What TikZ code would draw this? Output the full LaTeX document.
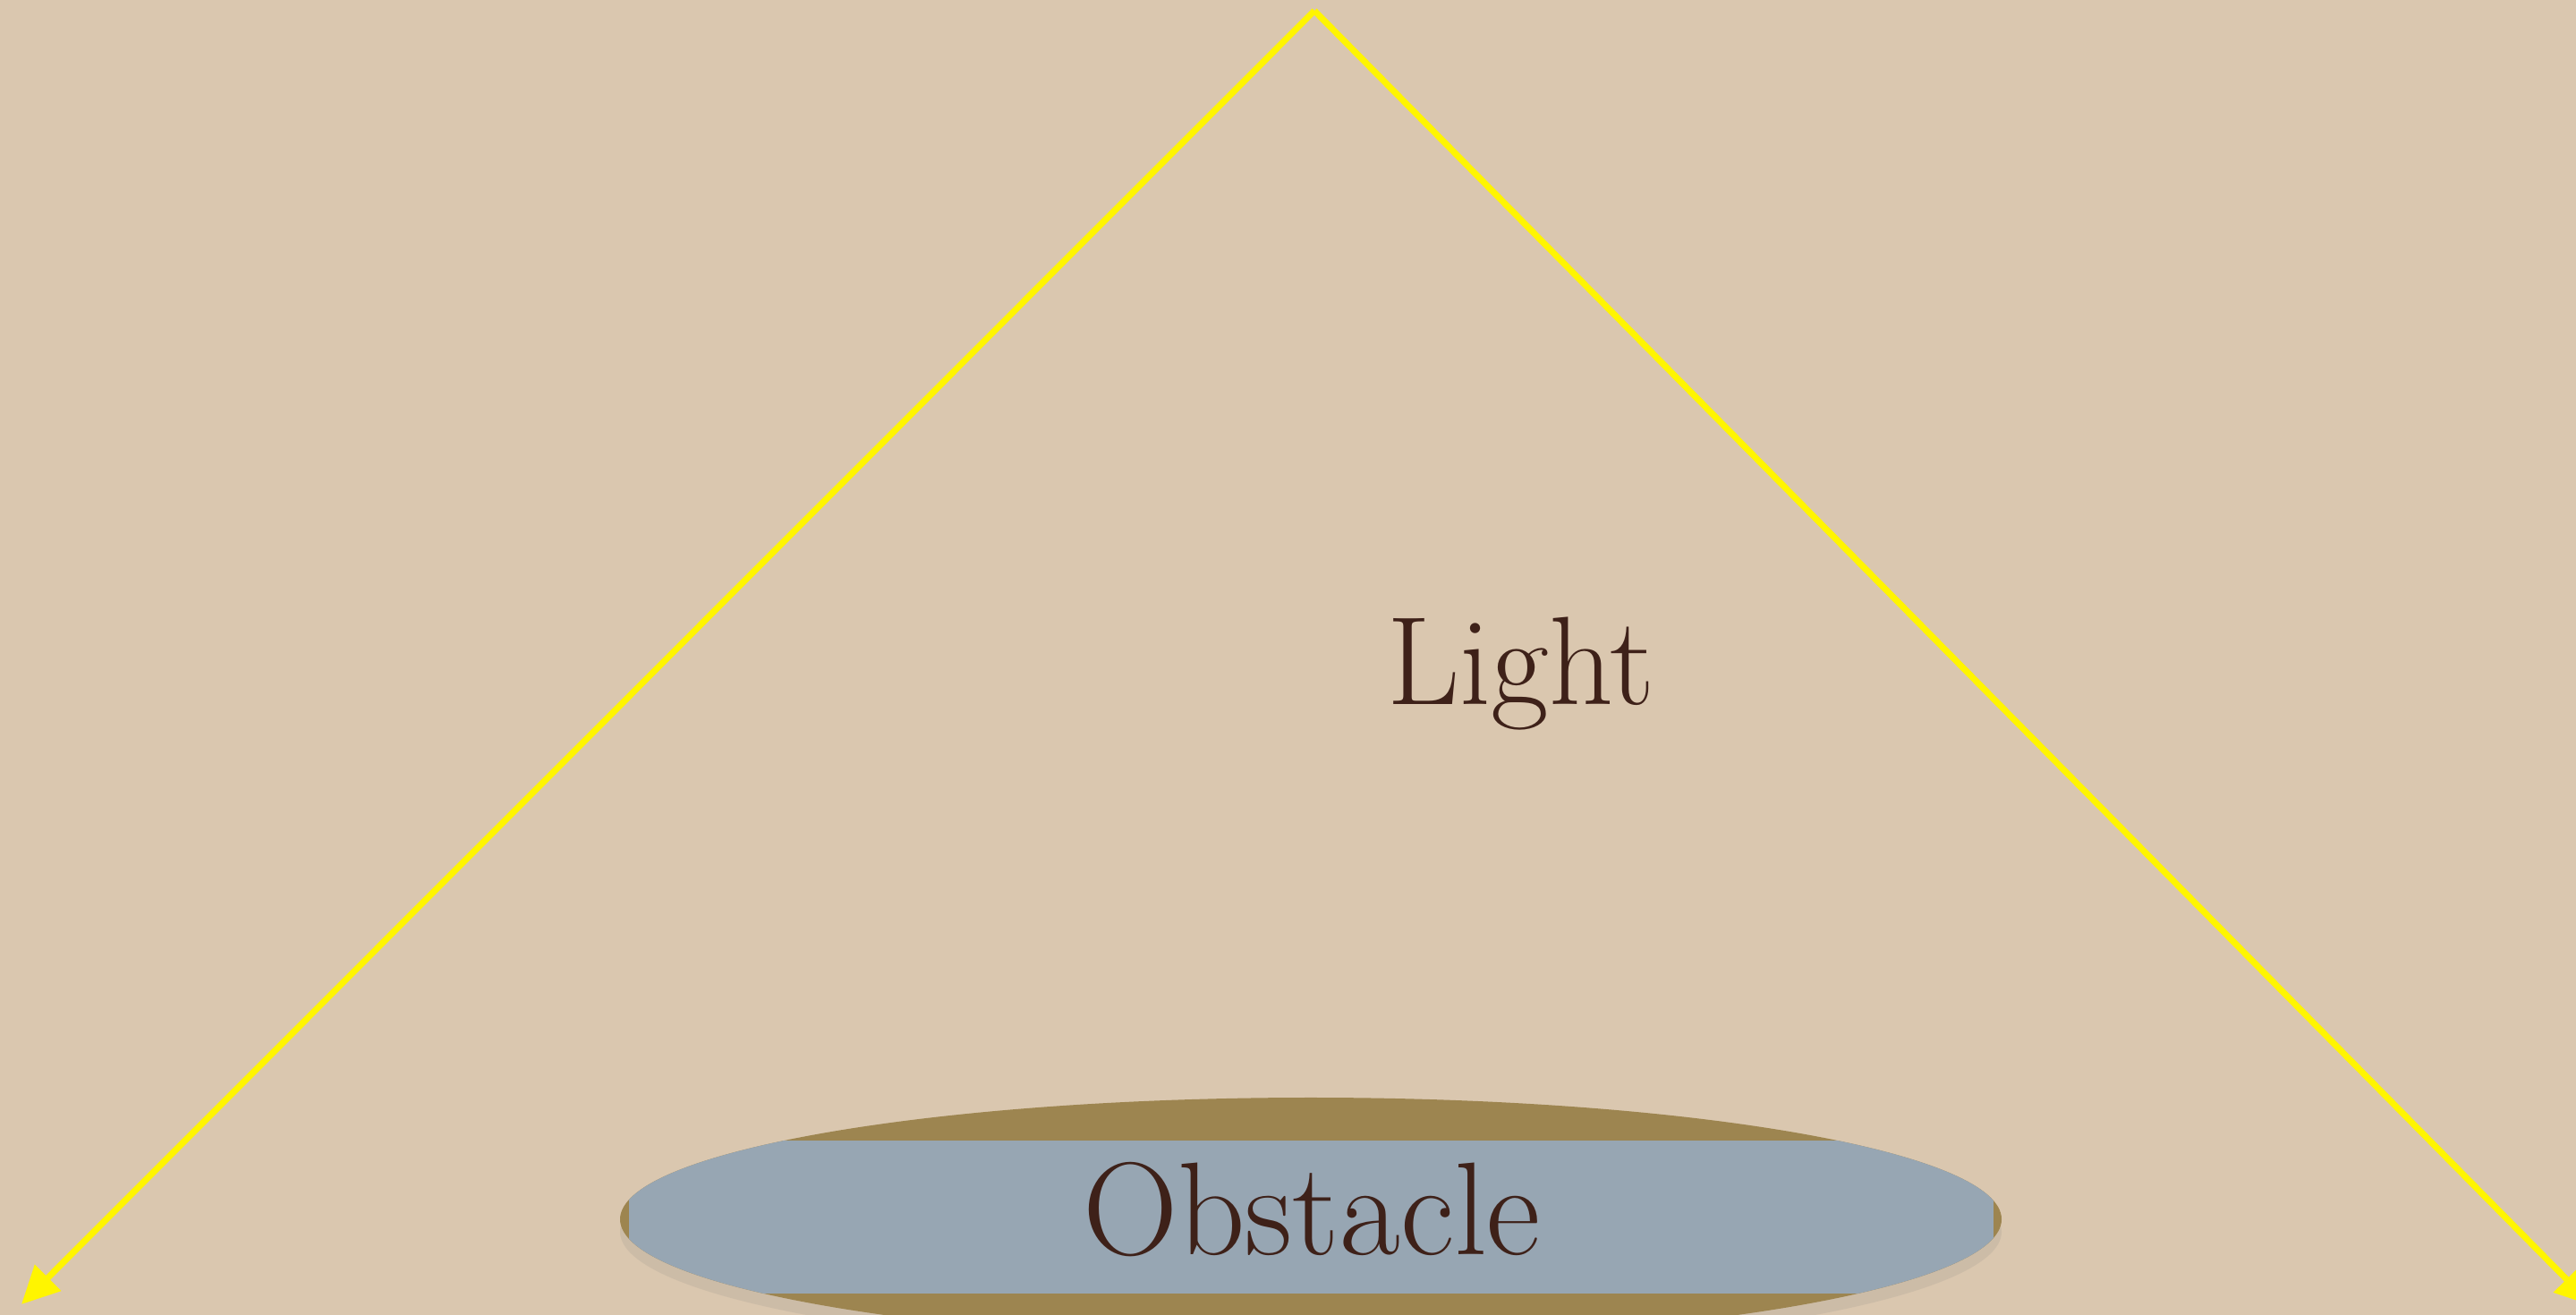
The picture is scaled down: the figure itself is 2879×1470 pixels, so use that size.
\documentclass[tikz,border=0pt]{standalone}
\usepackage{xcolor}
\usetikzlibrary{arrows.meta, shadows}
\definecolor{paper}{HTML}{DAC7AF}
\definecolor{beam}{HTML}{FFF500}
\definecolor{rim}{HTML}{9D8550}
\definecolor{slate}{HTML}{97A6B3}
\definecolor{ink}{HTML}{3E2119}

\begin{document}
\begin{tikzpicture}[x=0.01cm, y=0.01cm, >={Triangle[length=0.42cm, width=0.4cm]},
    ray/.style={->, beam, line width=2pt},
    lbl/.style={text=ink, anchor=base, inner sep=0pt}]

  \fill[paper] (0,0) rectangle (2879,1470);
  \useasboundingbox (0,0) rectangle (2879,1470);

  % obstacle: brown ellipse with a slate band
  \fill[rim, drop shadow={opacity=0.15, shadow xshift=0pt, shadow yshift=-4pt}]
    (1465,107) ellipse [x radius=772, y radius=136];
  \begin{scope}
    \clip (1465,107) ellipse [x radius=772, y radius=136];
    \fill[slate] (703,24) rectangle (2228,195);
  \end{scope}
  \node[lbl, font=\fontsize{42}{46}\selectfont] (obst) at (1466,67) {Obstacle};

  \coordinate (apex) at (1469,1458);
  \coordinate (leftend) at (24,12);
  \coordinate (rightend) at (2898,10);

  \draw[ray] (apex) -- (leftend);
  \draw[ray] (apex) -- (rightend);

  \node[lbl, font=\fontsize{40}{44}\selectfont] (light) at (1700,682) {Light};
\end{tikzpicture}
\end{document}
